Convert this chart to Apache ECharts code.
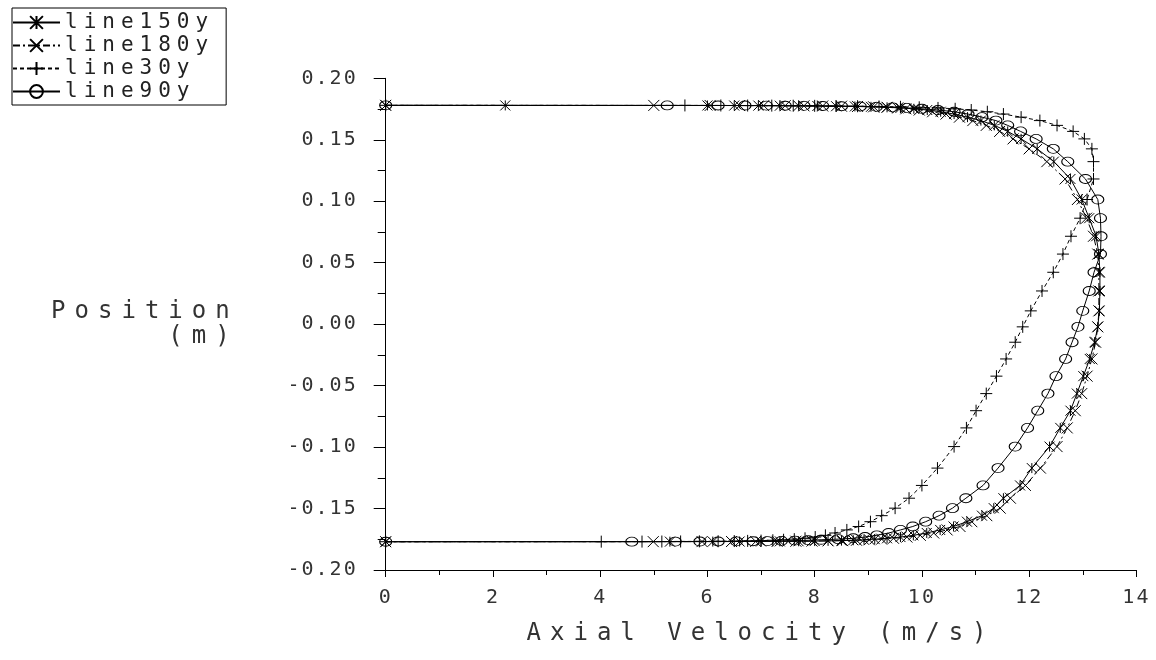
<!DOCTYPE html>
<html>
<head>
<meta charset="utf-8">
<script src="https://cdn.jsdelivr.net/npm/echarts@6/dist/echarts.min.js"></script>
<style>
html,body{margin:0;padding:0;background:#fff;}
#chart{width:1156px;height:660px;}
</style>
</head>
<body>
<div id="chart"></div>
<script>
// ---------- data ----------
const seriesNames = ['line150y', 'line180y', 'line30y', 'line90y'];

// mesh positions (m), from the upper wall down to the lower wall
const positions = [
  0.178,
  0.17793, 0.17789, 0.17784, 0.17778, 0.1777, 0.1776, 0.17747, 0.1773, 0.1771, 0.1768, 0.1764, 0.1759,
  0.1752, 0.1742, 0.1728, 0.1709, 0.1684, 0.1656, 0.1617, 0.1568, 0.1507, 0.1426, 0.1322, 0.1181,
  0.1014, 0.0862, 0.0715, 0.0570, 0.0422, 0.0270, 0.0108, -0.0022, -0.0147, -0.0283, -0.0423, -0.0565, -0.0704, -0.0844, -0.0996,
  -0.1171, -0.1312, -0.1416, -0.1497, -0.1558, -0.1607, -0.1646, -0.1674, -0.1699, -0.1718, -0.1732, -0.1742,
  -0.1749, -0.1754, -0.1758, -0.1761, -0.1763, -0.17647, -0.1766, -0.1767, -0.17678, -0.17684, -0.17689, -0.17693,
  -0.177
];

// axial velocity (m/s) of each profile at the positions above
const line150y = [
  0,
  2.23, 6.0, 6.5, 6.95, 7.35, 7.7, 8.05, 8.4, 8.75, 9.05, 9.35, 9.6,
  9.85, 10.1, 10.35, 10.6, 10.85, 11.1, 11.35, 11.6, 11.85, 12.15, 12.46, 12.77,
  12.98, 13.12, 13.25, 13.3, 13.32, 13.32, 13.31, 13.28, 13.22, 13.13, 13.01, 12.89, 12.77, 12.58, 12.38,
  12.05, 11.83, 11.52, 11.34, 11.12, 10.84, 10.59, 10.34, 10.09, 9.84, 9.6, 9.35,
  9.12, 8.92, 8.72, 8.5, 8.25, 8.0, 7.7, 7.35, 7.0, 6.6, 6.1, 5.3,
  0
];
const line180y = [
  0,
  5.0, 6.05, 6.6, 7.05, 7.45, 7.8, 8.15, 8.5, 8.8, 9.1, 9.35, 9.55,
  9.7, 9.95, 10.2, 10.45, 10.7, 10.95, 11.2, 11.45, 11.7, 12.0, 12.33, 12.67,
  12.9, 13.07, 13.2, 13.28, 13.3, 13.3, 13.3, 13.28, 13.24, 13.17, 13.08, 12.98, 12.86, 12.71, 12.52,
  12.21, 11.93, 11.65, 11.46, 11.21, 10.93, 10.71, 10.47, 10.22, 9.97, 9.72, 9.47,
  9.25, 9.02, 8.78, 8.52, 8.25, 7.95, 7.65, 7.3, 6.9, 6.45, 5.9, 4.99,
  0
];
const line30y = [
  0,
  5.58, 6.25, 6.75, 7.2, 7.6, 8.0, 8.4, 8.8, 9.2, 9.6, 9.95, 10.3,
  10.62, 10.92, 11.22, 11.52, 11.85, 12.2, 12.52, 12.82, 13.03, 13.17, 13.2, 13.2,
  13.08, 12.95, 12.78, 12.63, 12.45, 12.24, 12.03, 11.88, 11.74, 11.57, 11.39, 11.2, 11.01, 10.83, 10.6,
  10.29, 10.0, 9.76, 9.5, 9.25, 9.04, 8.82, 8.6, 8.38, 8.2, 8.01, 7.82,
  7.62, 7.42, 7.22, 7.0, 6.75, 6.5, 6.2, 5.85, 5.5, 5.15, 4.78, 4.02,
  0
];
const line90y = [
  0,
  5.25, 6.2, 6.7, 7.1, 7.45, 7.8, 8.15, 8.5, 8.85, 9.15, 9.45, 9.72,
  10.0, 10.3, 10.6, 10.86, 11.12, 11.38, 11.6, 11.84, 12.13, 12.45, 12.72, 13.05,
  13.28, 13.33, 13.34, 13.33, 13.21, 13.12, 13.0, 12.91, 12.8, 12.68, 12.5, 12.35, 12.16, 11.97, 11.74,
  11.42, 11.14, 10.82, 10.57, 10.32, 10.07, 9.83, 9.6, 9.38, 9.16, 8.94, 8.72,
  8.44, 8.12, 7.88, 7.63, 7.38, 7.12, 6.85, 6.54, 6.2, 5.86, 5.4, 4.59,
  0
];

const xTickLabels = ['0', '2', '4', '6', '8', '10', '12', '14'];
const yTickLabels = ['-0.20', '-0.15', '-0.10', '-0.05', '0.00', '0.05', '0.10', '0.15', '0.20'];

// ---------- wide letter spacing like the plotter font ----------
(function () {
  var P = CanvasRenderingContext2D.prototype;
  function setSpacing(ctx) {
    var m = /ls(\d+)/.exec(ctx.font || '');
    try { ctx.letterSpacing = m ? (m[1] + 'px') : '0px'; } catch (e) {}
  }
  ['fillText', 'strokeText', 'measureText'].forEach(function (k) {
    var orig = P[k];
    P[k] = function () { setSpacing(this); return orig.apply(this, arguments); };
  });
})();

const FONT = function (ls) { return "'DejaVu Sans Mono', ls" + ls; };

// ---------- series styling ----------
const styles = {
  line150y: { symbol: 'path://M0,0L10,10M10,0L0,10M5,0L5,10', size: 10, line: 'solid' },
  line180y: { symbol: 'path://M0,0L10,10M10,0L0,10', size: 11, line: [7, 3, 2, 3] },
  line30y:  { symbol: 'path://M0,5L10,5M5,0L5,10', size: 12, line: [4, 3] },
  line90y:  { symbol: 'path://M10,5A5,5,0,1,1,0,5A5,5,0,1,1,10,5Z', size: [12, 9], line: 'solid' }
};
const values = { line150y: line150y, line180y: line180y, line30y: line30y, line90y: line90y };

const series = seriesNames.map(function (name) {
  const st = styles[name];
  const vel = values[name];
  return {
    name: name,
    type: 'line',
    data: positions.map(function (p, i) { return [vel[i], p]; }),
    symbol: st.symbol,
    symbolSize: st.size,
    symbolKeepAspect: false,
    showSymbol: true,
    showAllSymbol: true,
    clip: false,
    smooth: false,
    lineStyle: { color: '#000', width: 1, type: st.line },
    itemStyle: { color: 'rgba(0,0,0,0)', borderColor: '#000', borderWidth: 1 },
    emphasis: { disabled: true },
    z: 2
  };
});

const chart = echarts.init(document.getElementById('chart'), null, { renderer: 'canvas' });
chart.setOption({
  animation: false,
  backgroundColor: '#fff',
  textStyle: { fontFamily: FONT(0) },
  grid: { left: 385.7, right: 19.6, top: 78.3, bottom: 90, containLabel: false, outerBoundsMode: 'none' },
  legend: {
    orient: 'vertical',
    left: 12,
    top: 8,
    padding: [1, 12, 0, 0],
    itemWidth: 47,
    itemHeight: 16,
    itemGap: -4,
    borderColor: '#000',
    borderWidth: 1,
    borderRadius: 0,
    backgroundColor: '#fff',
    data: seriesNames,
    textStyle: { fontSize: 21, fontFamily: FONT(6), color: '#222', lineHeight: 16 }
  },
  xAxis: {
    type: 'value',
    min: 0, max: 14, interval: 2,
    name: 'Axial Velocity (m/s)',
    nameLocation: 'middle',
    nameGap: 47,
    nameTextStyle: { fontSize: 24, fontFamily: FONT(9), color: '#333' },
    axisLine: { show: true, onZero: false, lineStyle: { color: '#000', width: 1 } },
    axisTick: { show: true, inside: false, length: 7, lineStyle: { color: '#000', width: 1 } },
    minorTick: { show: true, splitNumber: 2, length: 5, lineStyle: { color: '#000', width: 1 } },
    splitLine: { show: false },
    minorSplitLine: { show: false },
    axisLabel: {
      margin: 17, fontSize: 20, fontFamily: FONT(2), color: '#333',
      formatter: function (v, i) { return xTickLabels[i]; }
    }
  },
  yAxis: {
    type: 'value',
    min: -0.2, max: 0.2, interval: 0.05,
    name: 'Position\n(m)',
    nameLocation: 'middle',
    nameRotate: 0,
    nameGap: 147,
    nameTextStyle: { fontSize: 24, fontFamily: FONT(9), color: '#333', align: 'right', verticalAlign: 'middle', lineHeight: 25, padding: [20, 0, 0, 0] },
    axisLine: { show: true, onZero: false, lineStyle: { color: '#000', width: 1 } },
    axisTick: { show: true, inside: false, length: 12, lineStyle: { color: '#000', width: 1 } },
    minorTick: { show: true, splitNumber: 2, length: 8, lineStyle: { color: '#000', width: 1 } },
    splitLine: { show: false },
    minorSplitLine: { show: false },
    axisLabel: {
      margin: 28, fontSize: 20, fontFamily: FONT(2), color: '#333',
      formatter: function (v, i) { return yTickLabels[i]; }
    }
  },
  series: series
});
</script>
</body>
</html>
